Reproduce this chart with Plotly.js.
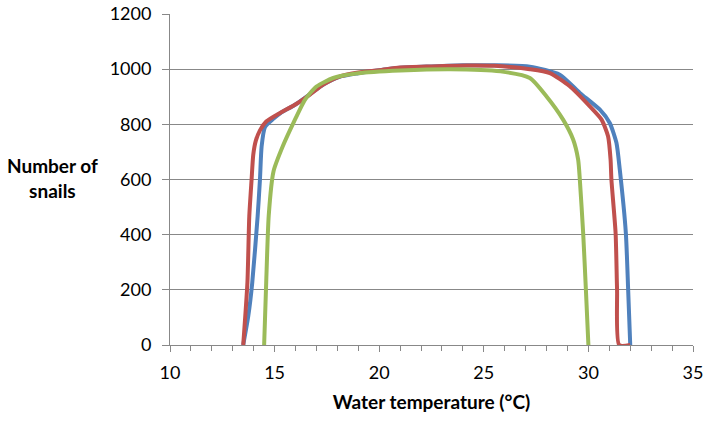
<!DOCTYPE html>
<html>
<head>
<meta charset="utf-8">
<script src="https://cdn.plot.ly/plotly-3.0.1.min.js"></script>
<style>html,body{margin:0;padding:0;background:#fff;}#chart{width:710px;height:421px;}</style>
</head>
<body>
<div id="chart"></div>
<script>
// Blue series
const blueTemp = [13.5, 13.74, 13.93, 14.19, 14.3, 14.38, 14.54, 14.94, 15.3, 16, 16.7, 17.33, 18.1, 19, 20, 21, 22.5, 24, 25.5, 27.2, 28.63, 29.59, 30.55, 31.02, 31.34, 31.5, 31.79, 31.9, 32.0];
const blueSnails = [0, 104, 225, 467, 600, 720, 790, 820, 842, 872, 910, 944, 972, 985, 996, 1005, 1010, 1014, 1014, 1009, 980, 914, 853, 805, 733, 636, 406, 201, 0];
// Red series
const redTemp = [13.5, 13.7, 13.79, 13.9, 13.98, 14.1, 14.3, 14.6, 15.26, 15.97, 16.69, 17.33, 18.13, 19, 20, 21, 22.5, 24.2, 25.5, 27.2, 28.16, 29.11, 30.07, 30.63, 30.94, 31.06, 31.1, 31.3, 31.37, 31.47, 32.0];
const redSnails = [0, 225, 467, 600, 690, 740, 778, 810, 841, 871, 908, 944, 974, 988, 996, 1006, 1010, 1013, 1012, 1000, 986, 938, 865, 817, 757, 672, 600, 406, 201, 0, 0];
// Green series
const greenTemp = [14.5, 14.6, 14.72, 14.95, 15.4, 15.9, 16.45, 17.0, 17.8, 19, 21, 23.4, 25.8, 27.2, 28.0, 28.79, 29.27, 29.51, 29.59, 29.75, 29.88, 30.0];
const greenSnails = [0, 230, 470, 630, 722, 805, 889, 937, 968, 985, 995, 1000, 992, 968, 901, 817, 745, 672, 600, 406, 201, 0];
// Axis labels
const xTitle = 'Water temperature (°C)';
const yTitle = 'Number of<br>snails';

const FONT = 'Lato, "Open Sans", sans-serif';
const GRID = '#888888';

function series(x, y, color) {
  return {x: x, y: y, type: 'scatter', mode: 'lines',
    line: {color: color, width: 4, shape: 'spline', smoothing: 0.6},
    hoverinfo: 'skip'};
}

const data = [
  series(blueTemp, blueSnails, '#4F81BD'),
  series(redTemp, redSnails, '#C0504D'),
  series(greenTemp, greenSnails, '#9BBB59')
];

const layout = {
  width: 710, height: 421,
  margin: {l: 170, r: 17, t: 14, b: 76},
  paper_bgcolor: '#fff', plot_bgcolor: '#fff',
  showlegend: false,
  font: {family: FONT, color: '#000', size: 18},
  xaxis: {
    range: [10, 35], tick0: 10, dtick: 5,
    ticks: 'outside', ticklen: 6, tickcolor: GRID, tickwidth: 1,
    ticklabelstandoff: 5,
    showline: true, linecolor: GRID, linewidth: 1,
    showgrid: false, zeroline: false,
    minor: {dtick: 1, tick0: 10, ticks: 'outside', ticklen: 5, tickcolor: GRID, showgrid: false},
    tickfont: {family: FONT, size: 18, color: '#000'},
    title: {text: '<b>' + xTitle + '</b>', font: {family: FONT, size: 19, color: '#000'}, standoff: 14}
  },
  yaxis: {
    range: [0, 1200], tick0: 0, dtick: 200,
    ticks: 'outside', ticklen: 7, tickcolor: GRID, tickwidth: 1,
    ticklabelstandoff: 7,
    showline: true, linecolor: GRID, linewidth: 1,
    showgrid: true, gridcolor: GRID, gridwidth: 1, zeroline: false,
    tickfont: {family: FONT, size: 18, color: '#000'}
  },
  annotations: [{
    text: '<b>' + yTitle + '</b>', xref: 'paper', yref: 'paper',
    x: -0.225, y: 0.505, xanchor: 'center', yanchor: 'middle', showarrow: false,
    font: {family: FONT, size: 19, color: '#000'}
  }]
};

Plotly.newPlot('chart', data, layout, {displayModeBar: false, staticPlot: true});
</script>
</body>
</html>
